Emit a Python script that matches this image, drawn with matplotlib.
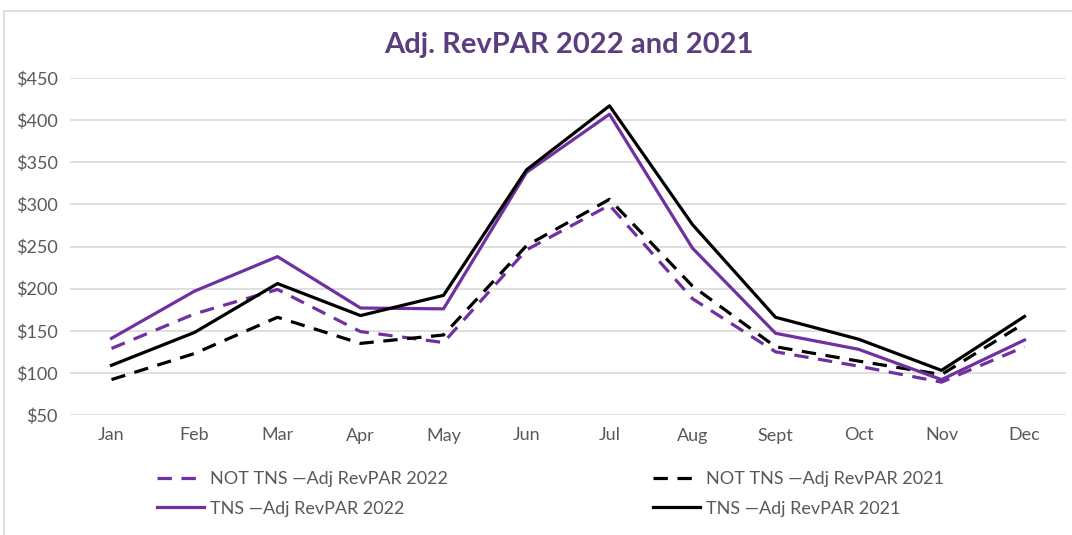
import matplotlib
matplotlib.use("Agg")
import matplotlib.pyplot as plt
from matplotlib.patches import Rectangle

months = ["Jan", "Feb", "Mar", "Apr", "May", "Jun", "Jul", "Aug", "Sept", "Oct", "Nov", "Dec"]
not_tns_2022 = [129, 170, 199, 149, 136, 246, 299, 188, 125, 108, 89, 131]
not_tns_2021 = [92, 123, 166, 135, 145, 251, 306, 203, 131, 114, 98, 159]
tns_2022 = [141, 197, 238, 177, 176, 338, 407, 248, 147, 128, 92, 139]
tns_2021 = [109, 148, 206, 168, 192, 341, 417, 276, 166, 140, 103, 167]
yticks = [50, 100, 150, 200, 250, 300, 350, 400, 450]

purple = "#7030A0"
gray_txt = "#595959"

plt.rcParams['font.family'] = ['Lato', 'DejaVu Sans']

fig = plt.figure(figsize=(10.72, 5.35), dpi=100)
fig.patches.append(Rectangle((4 / 1072, -0.01), 1.0, 1 - 11 / 535 + 0.01,
                             transform=fig.transFigure, fill=False,
                             edgecolor="#d9d9d9", linewidth=1.2))
ax = fig.add_axes([70 / 1072, 1 - 415 / 535, (1066 - 70) / 1072, (415 - 78) / 535])

x = range(len(months))
lw = 2.3
dash = (0, (4.5, 3))
l1, = ax.plot(x, not_tns_2022, color=purple, lw=lw, linestyle=dash, label="NOT TNS \u2014Adj RevPAR 2022")
l2, = ax.plot(x, not_tns_2021, color="black", lw=lw, linestyle=dash, label="NOT TNS \u2014Adj RevPAR 2021")
l3, = ax.plot(x, tns_2022, color=purple, lw=lw, label="TNS \u2014Adj RevPAR 2022")
l4, = ax.plot(x, tns_2021, color="black", lw=lw, label="TNS \u2014Adj RevPAR 2021")

ax.set_xlim(-0.5, len(months) - 0.5)
ax.set_ylim(50, 450)
ax.set_yticks(yticks)
ax.set_yticklabels(["${}".format(v) for v in yticks])
ax.set_xticks(list(x))
ax.set_xticklabels(months)
ax.grid(axis="y", color="#d9d9d9", linewidth=1.2)
ax.set_axisbelow(True)
for s in ax.spines.values():
    s.set_visible(False)
ax.tick_params(length=0, labelsize=13, colors=gray_txt, pad=9)
ax.tick_params(axis="y", pad=9)

fig.text(0.531, 1 - 45 / 535, "Adj. RevPAR 2022 and 2021", ha="center", va="center",
         fontsize=21, fontweight="bold", color="#5B3E7E")

leg = fig.legend(handles=[l1, l3, l2, l4], ncol=2, loc="upper left",
                 bbox_to_anchor=(141 / 1072, 1 - 455 / 535), frameon=False,
                 fontsize=13, handlelength=2.6, handletextpad=0.3,
                 columnspacing=11.4, labelspacing=0.75, labelcolor=gray_txt)

fig.savefig("out.png", dpi=100)
